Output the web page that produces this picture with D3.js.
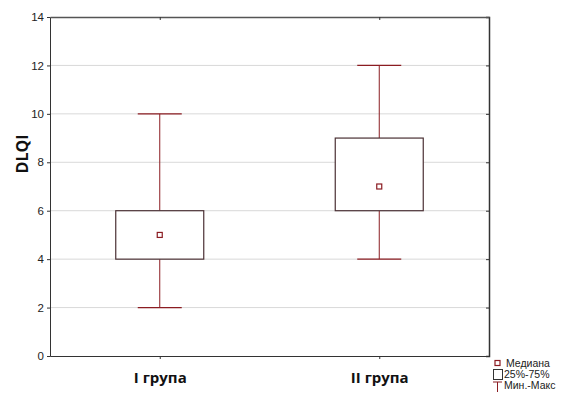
<!DOCTYPE html>
<html>
<head>
<meta charset="utf-8">
<script src="https://d3js.org/d3.v7.min.js"></script>
<style>
  body { margin: 0; background: #fff; }
  text { font-family: "Liberation Sans", Arial, sans-serif; }
</style>
</head>
<body>
<svg width="566" height="395"></svg>
<script>
  const groups = ['I група', 'II група'];
  const mins = [2, 4];
  const q1s = [4, 6];
  const medians = [5, 7];
  const q3s = [6, 9];
  const maxs = [10, 12];
  const yTicks = [0, 2, 4, 6, 8, 10, 12, 14];
  const legendLabels = ['Медиана', '25%-75%', 'Мин.-Макс'];

  const svg = d3.select('svg');
  const plotL = 50, plotR = 489, plotT = 17, plotB = 356;
  const red = '#8b1c22';
  const boxStroke = '#4a3034';

  const x = d3.scalePoint().domain(groups).range([plotL, plotR]).padding(0.5);
  const y = d3.scaleLinear().domain([0, 14]).range([plotB, plotT]);

  // grid
  svg.append('g').selectAll('line').data(yTicks.slice(1, -1)).enter()
    .append('line')
    .attr('x1', plotL).attr('x2', plotR)
    .attr('y1', d => y(d)).attr('y2', d => y(d))
    .attr('stroke', '#d9d9d9').attr('stroke-width', 1);

  // left axis
  const yAxis = svg.append('g').attr('transform', `translate(${plotL},0)`)
    .call(d3.axisLeft(y).tickValues(yTicks).tickSize(3).tickPadding(3));
  yAxis.select('.domain').attr('stroke', '#333');
  yAxis.selectAll('.tick line').attr('stroke', '#333');
  yAxis.selectAll('text').attr('font-size', 11.5).attr('fill', '#222');

  // right axis ticks (inward)
  const yRight = svg.append('g').attr('transform', `translate(${plotR},0)`)
    .call(d3.axisLeft(y).tickValues(yTicks).tickSize(3).tickFormat(''));
  yRight.select('.domain').attr('stroke', '#333').attr('stroke-width', 1.5);
  yRight.selectAll('.tick line').attr('stroke', '#333');

  // bottom axis
  const xAxis = svg.append('g').attr('transform', `translate(0,${plotB})`)
    .call(d3.axisBottom(x).tickSize(3).tickPadding(13).tickSizeOuter(0));
  xAxis.select('.domain').attr('stroke', '#333').attr('stroke-width', 1.2);
  xAxis.selectAll('.tick line').attr('stroke', '#333');
  xAxis.selectAll('text').attr('font-size', 15).attr('font-weight', 'bold').attr('fill', '#111')
    .style('font-family', '"Open Sans", sans-serif');

  // top axis
  const xTop = svg.append('g').attr('transform', `translate(0,${plotT})`)
    .call(d3.axisBottom(x).tickSize(3).tickFormat('').tickSizeOuter(0));
  xTop.select('.domain').attr('stroke', '#555').attr('stroke-width', 1.5);
  xTop.selectAll('.tick line').attr('stroke', '#333');

  // y label
  svg.append('text')
    .attr('transform', `translate(28,154) rotate(-90)`)
    .attr('text-anchor', 'middle')
    .attr('font-size', 16).attr('font-weight', 'bold').attr('fill', '#111')
    .style('font-family', '"Open Sans", sans-serif')
    .text('DLQI');

  const boxW = 88, capW = 44;
  const g = svg.append('g').selectAll('g').data(groups).enter().append('g');

  // whiskers
  g.append('line')
    .attr('x1', d => x(d)).attr('x2', d => x(d))
    .attr('y1', (d, i) => y(maxs[i])).attr('y2', (d, i) => y(q3s[i]))
    .attr('stroke', red);
  g.append('line')
    .attr('x1', d => x(d)).attr('x2', d => x(d))
    .attr('y1', (d, i) => y(q1s[i])).attr('y2', (d, i) => y(mins[i]))
    .attr('stroke', red);
  g.append('line')
    .attr('x1', d => x(d) - capW / 2).attr('x2', d => x(d) + capW / 2)
    .attr('y1', (d, i) => y(maxs[i])).attr('y2', (d, i) => y(maxs[i]))
    .attr('stroke', red).attr('stroke-width', 1.3);
  g.append('line')
    .attr('x1', d => x(d) - capW / 2).attr('x2', d => x(d) + capW / 2)
    .attr('y1', (d, i) => y(mins[i])).attr('y2', (d, i) => y(mins[i]))
    .attr('stroke', red).attr('stroke-width', 1.3);

  // boxes
  g.append('rect')
    .attr('x', d => x(d) - boxW / 2).attr('width', boxW)
    .attr('y', (d, i) => y(q3s[i])).attr('height', (d, i) => y(q1s[i]) - y(q3s[i]))
    .attr('fill', '#fff').attr('stroke', boxStroke).attr('stroke-width', 1.2);

  // medians
  g.append('rect')
    .attr('x', d => x(d) - 2.5).attr('width', 5)
    .attr('y', (d, i) => y(medians[i]) - 2.5).attr('height', 5)
    .attr('fill', '#fff').attr('stroke', red).attr('stroke-width', 1.2);

  // legend
  const lg = svg.append('g');
  lg.append('rect').attr('x', 495).attr('y', 360.5).attr('width', 5).attr('height', 5)
    .attr('fill', '#fff').attr('stroke', red).attr('stroke-width', 1.2);
  lg.append('rect').attr('x', 493.5).attr('y', 369.5).attr('width', 9).attr('height', 10)
    .attr('fill', '#fff').attr('stroke', '#333').attr('stroke-width', 1);
  lg.append('line').attr('x1', 493).attr('x2', 502).attr('y1', 382).attr('y2', 382).attr('stroke', red);
  lg.append('line').attr('x1', 497.5).attr('x2', 497.5).attr('y1', 382).attr('y2', 392).attr('stroke', red);
  lg.selectAll('text').data(legendLabels).enter().append('text')
    .attr('x', (d, i) => i === 0 ? 506 : 504)
    .attr('y', (d, i) => 367 + i * 11)
    .attr('font-size', 10.5).attr('fill', '#222')
    .text(d => d);
</script>
</body>
</html>
